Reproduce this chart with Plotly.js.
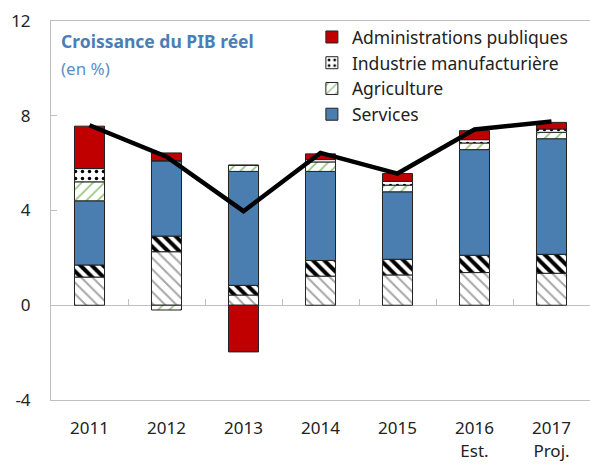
<!DOCTYPE html>
<html>
<head>
<meta charset="utf-8">
<script src="https://cdn.plot.ly/plotly-3.0.1.min.js"></script>
<style>html,body{margin:0;padding:0;background:#fff;}#chart{width:590px;height:464px;}</style>
</head>
<body>
<div id="chart"></div>
<script>
var years = ["2011","2012","2013","2014","2015","2016","2017"];
var yearLabels = ["2011","2012","2013","2014","2015","2016<br>Est.","2017<br>Proj."];
var yTicks = [-4, 0, 4, 8, 12];
var yTickLabels = ["-4", "0", "4", "8", "12"];
var mines = [1.19, 2.26, 0.43, 1.23, 1.28, 1.38, 1.35];
var construction = [0.51, 0.66, 0.41, 0.66, 0.66, 0.73, 0.80];
var services = [2.71, 3.18, 4.81, 3.76, 2.85, 4.46, 4.88];
var agriculture = [0.80, -0.20, 0.26, 0.40, 0.28, 0.28, 0.27];
var industrie = [0.56, 0.00, 0.00, 0.10, 0.16, 0.14, 0.14];
var administrations = [1.79, 0.33, -1.97, 0.24, 0.33, 0.38, 0.28];
var pibTotal = [7.60, 6.27, 3.97, 6.43, 5.56, 7.42, 7.76];
var boundaries = [0.5, 1.5, 2.5, 3.5, 4.5, 5.5];

var outline = {color: "#222222", width: 1};
var traces = [
  {type: "bar", x: years, y: mines, name: "Mines", showlegend: false,
   marker: {color: "#ffffff", line: outline, pattern: {shape: "\\", fgcolor: "#a6a6a6", bgcolor: "#ffffff", size: 8, solidity: 0.25}}},
  {type: "bar", x: years, y: construction, name: "Construction", showlegend: false,
   marker: {color: "#ffffff", line: outline, pattern: {shape: "\\", fgcolor: "#000000", bgcolor: "#ffffff", size: 8, solidity: 0.5}}},
  {type: "bar", x: years, y: services, name: "Services",
   marker: {color: "#4a7eb0", line: outline}},
  {type: "bar", x: years, y: agriculture, name: "Agriculture",
   marker: {color: "#ffffff", line: outline, pattern: {shape: "/", fgcolor: "#92c47a", bgcolor: "#ffffff", size: 8, solidity: 0.2}}},
  {type: "bar", x: years, y: industrie, name: "Industrie manufacturière",
   marker: {color: "#ffffff", line: outline, pattern: {shape: ".", fgcolor: "#000000", bgcolor: "#ffffff", size: 7, solidity: 0.2}}},
  {type: "bar", x: years, y: administrations, name: "Administrations publiques",
   marker: {color: "#c00000", line: outline}},
  {type: "scatter", mode: "lines", x: years, y: pibTotal, name: "PIB réel", showlegend: false,
   line: {color: "#000000", width: 4.5}},
  {type: "scatter", mode: "markers", x: [0], y: [null], xaxis: "x2", showlegend: false, hoverinfo: "skip"}
];

var layout = {
  width: 590, height: 464,
  margin: {l: 51, r: 0, t: 21, b: 64},
  paper_bgcolor: "#ffffff", plot_bgcolor: "#ffffff",
  font: {family: "Noto Sans, Open Sans, sans-serif", size: 17, color: "#222222"},
  barmode: "relative",
  bargap: 0.61,
  showlegend: true,
  legend: {x: 0.484, xanchor: "left", y: 1.005, yanchor: "top", traceorder: "reversed",
           font: {size: 17.5, color: "#222222"}, bgcolor: "rgba(0,0,0,0)", tracegroupgap: 0, itemwidth: 30},
  xaxis: {type: "category", tickmode: "array", tickvals: years, ticktext: yearLabels,
          showline: true, linecolor: "#bfbfbf", linewidth: 1, mirror: true, ticks: "",
          showgrid: false, zeroline: false, ticklabelstandoff: 13,
          tickfont: {size: 17, color: "#222222"}},
  xaxis2: {overlaying: "x", anchor: "free", position: 0.25, side: "top", range: [-0.5, 6.5],
           tickmode: "array", tickvals: boundaries, ticks: "outside", ticklen: 6, tickwidth: 1, tickcolor: "#bfbfbf",
           showticklabels: false, showline: false, showgrid: false, zeroline: false},
  yaxis: {range: [-4, 12], tickmode: "array", tickvals: yTicks, ticktext: yTickLabels,
          ticks: "inside", ticklen: 6, tickcolor: "#bfbfbf",
          showline: true, linecolor: "#bfbfbf", linewidth: 1, showgrid: false,
          zeroline: true, zerolinecolor: "#bfbfbf", zerolinewidth: 1,
          ticklabelstandoff: 16, tickfont: {size: 17, color: "#222222"}},
  annotations: [
    {xref: "paper", yref: "paper", x: 0.014, y: 0.947, xanchor: "left", yanchor: "middle", showarrow: false,
     text: "<b>Croissance du PIB réel</b>", font: {size: 17.5, color: "#4a7eb5"}},
    {xref: "paper", yref: "paper", x: 0.014, y: 0.874, xanchor: "left", yanchor: "middle", showarrow: false,
     text: "(en %)", font: {size: 17, color: "#5b8fc9"}}
  ]
};

Plotly.newPlot("chart", traces, layout, {displayModeBar: false, staticPlot: true});
</script>
</body>
</html>
